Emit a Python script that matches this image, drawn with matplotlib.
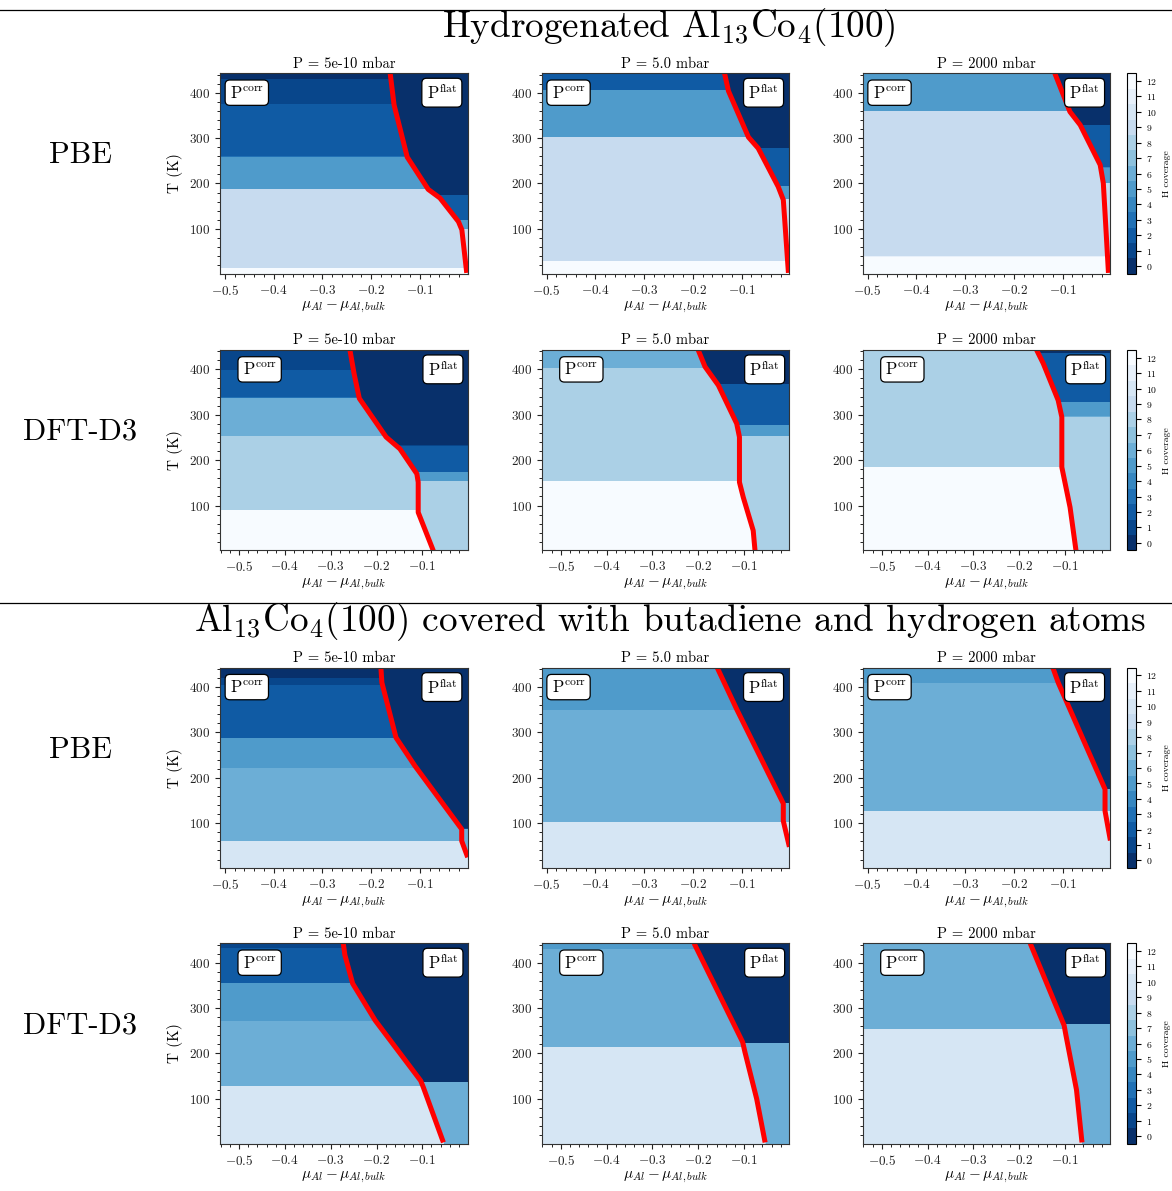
import numpy as np
import matplotlib
matplotlib.use('Agg')
import matplotlib.pyplot as plt
from matplotlib.lines import Line2D
from matplotlib.ticker import AutoMinorLocator, MultipleLocator

plt.rcParams['font.family'] = 'cmr10'
plt.rcParams['mathtext.fontset'] = 'cm'
plt.rcParams['axes.formatter.use_mathtext'] = True

# ---- labels ----
pressures = ['5e-10', '5.0', '2000']
row_methods = ['PBE', 'DFT-D3', 'PBE', 'DFT-D3']
section_titles = [r'Hydrogenated Al$_{13}$Co$_4$(100)',
                  r'Al$_{13}$Co$_4$(100) covered with butadiene and hydrogen atoms']
mu_range_pbe = [-0.51, -0.002]
mu_range_d3 = [-0.5415, -0.001]
T_range = [1, 442.7]
cov_ticks = list(range(13))

# ---- hydrogenated, PBE ----
h_pbe_lo_line_T = [442.7, 373, 258, 187, 168, 116, 98, 3]
h_pbe_lo_line_mu = [-0.161, -0.153, -0.126, -0.083, -0.059, -0.021, -0.014, -0.004]
h_pbe_lo_corr_T = [13.5, 187, 258, 373, 428]
h_pbe_lo_corr_cov = [12, 9, 5, 2, 1, 0]
h_pbe_lo_flat_T = [98, 118, 173]
h_pbe_lo_flat_cov = [9, 5, 2, 0]

h_pbe_mid_line_T = [442.7, 403.7, 302, 277.6, 193, 164, 3]
h_pbe_mid_line_mu = [-0.135, -0.127, -0.086, -0.066, -0.025, -0.0145, -0.004]
h_pbe_mid_corr_T = [28, 302, 404]
h_pbe_mid_corr_cov = [12, 9, 5, 2]
h_pbe_mid_flat_T = [164, 193, 277.6]
h_pbe_mid_flat_cov = [9, 5, 2, 0]

h_pbe_hi_line_T = [442.7, 358, 329, 241, 200.5, 3]
h_pbe_hi_line_mu = [-0.116, -0.085, -0.064, -0.023, -0.0165, -0.006]
h_pbe_hi_corr_T = [38, 358]
h_pbe_hi_corr_cov = [12, 9, 5]
h_pbe_hi_flat_T = [200, 234, 327]
h_pbe_hi_flat_cov = [9, 5, 2, 0]

# ---- hydrogenated, DFT-D3 ----
h_d3_lo_line_T = [442.7, 391, 336, 251, 225, 170, 151.5, 85, 0.4]
h_d3_lo_line_mu = [-0.258, -0.249, -0.2375, -0.179, -0.149, -0.112, -0.109, -0.109, -0.076]
h_d3_lo_corr_T = [89, 252.5, 337, 397]
h_d3_lo_corr_cov = [12, 8, 6, 2, 1]
h_d3_lo_flat_T = [153, 172, 231]
h_d3_lo_flat_cov = [8, 5, 2, 0]

h_d3_mid_line_T = [442.7, 405.7, 365, 280.6, 251, 151.5, 118, 45, 0.4]
h_d3_mid_line_mu = [-0.200, -0.185, -0.156, -0.116, -0.110, -0.110, -0.1016, -0.080, -0.076]
h_d3_mid_corr_T = [153, 402]
h_d3_mid_corr_cov = [12, 8, 6]
h_d3_mid_flat_T = [252.5, 277, 367.5]
h_d3_mid_flat_cov = [8, 5, 2, 0]

h_d3_hi_line_T = [442.7, 413, 332, 295, 184.6, 96, 0.4]
h_d3_hi_line_mu = [-0.162, -0.1475, -0.115, -0.107, -0.107, -0.089, -0.076]
h_d3_hi_corr_T = [183]
h_d3_hi_corr_cov = [12, 8]
h_d3_hi_flat_T = [295, 327, 434]
h_d3_hi_flat_cov = [8, 5, 2, 0]

# ---- butadiene + H, PBE ----
b_pbe_lo_line_T = [442.7, 409.7, 288.6, 226, 87, 61, 25]
b_pbe_lo_line_mu = [-0.180, -0.178, -0.149, -0.110, -0.0143, -0.0143, -0.002]
b_pbe_lo_corr_T = [60, 220, 286, 404, 419]
b_pbe_lo_corr_cov = [10, 6, 5, 2, 1, 0]
b_pbe_lo_flat_T = [87]
b_pbe_lo_flat_cov = [6, 0]

b_pbe_mid_line_T = [442.7, 351, 143.4, 105, 48]
b_pbe_mid_line_mu = [-0.150, -0.110, -0.0145, -0.0145, -0.002]
b_pbe_mid_corr_T = [101.6, 349]
b_pbe_mid_corr_cov = [10, 6, 5]
b_pbe_mid_flat_T = [101.6, 143.4]
b_pbe_mid_flat_cov = [10, 6, 0]

b_pbe_hi_line_T = [442.7, 409.7, 175, 127, 62]
b_pbe_hi_line_mu = [-0.120, -0.109, -0.013, -0.013, -0.002]
b_pbe_hi_corr_T = [125, 408]
b_pbe_hi_corr_cov = [10, 6, 5]
b_pbe_hi_flat_T = [125, 175]
b_pbe_hi_flat_cov = [10, 6, 0]

# ---- butadiene + H, DFT-D3 ----
b_d3_lo_line_T = [442.7, 416.8, 354, 273, 140, 126, 4]
b_d3_lo_line_mu = [-0.2725, -0.269, -0.252, -0.203, -0.1036, -0.098, -0.054]
b_d3_lo_corr_T = [128, 271.7, 354, 430, 439]
b_d3_lo_corr_cov = [10, 6, 5, 2, 1, 0]
b_d3_lo_flat_T = [137]
b_d3_lo_flat_cov = [6, 0]

b_d3_mid_line_T = [442.7, 225, 203, 100, 4]
b_d3_mid_line_mu = [-0.209, -0.103, -0.098, -0.0724, -0.054]
b_d3_mid_corr_T = [212.7, 428]
b_d3_mid_corr_cov = [10, 6, 5]
b_d3_mid_flat_T = [223]
b_d3_mid_flat_cov = [6, 0]

b_d3_hi_line_T = [442.7, 262, 240, 120, 4]
b_d3_hi_line_mu = [-0.176, -0.102, -0.098, -0.075, -0.063]
b_d3_hi_corr_T = [252.5]
b_d3_hi_corr_cov = [10, 6]
b_d3_hi_flat_T = [263]
b_d3_hi_flat_cov = [6, 0]

rows = [
    [(h_pbe_lo_line_T, h_pbe_lo_line_mu, h_pbe_lo_corr_T, h_pbe_lo_corr_cov, h_pbe_lo_flat_T, h_pbe_lo_flat_cov),
     (h_pbe_mid_line_T, h_pbe_mid_line_mu, h_pbe_mid_corr_T, h_pbe_mid_corr_cov, h_pbe_mid_flat_T, h_pbe_mid_flat_cov),
     (h_pbe_hi_line_T, h_pbe_hi_line_mu, h_pbe_hi_corr_T, h_pbe_hi_corr_cov, h_pbe_hi_flat_T, h_pbe_hi_flat_cov)],
    [(h_d3_lo_line_T, h_d3_lo_line_mu, h_d3_lo_corr_T, h_d3_lo_corr_cov, h_d3_lo_flat_T, h_d3_lo_flat_cov),
     (h_d3_mid_line_T, h_d3_mid_line_mu, h_d3_mid_corr_T, h_d3_mid_corr_cov, h_d3_mid_flat_T, h_d3_mid_flat_cov),
     (h_d3_hi_line_T, h_d3_hi_line_mu, h_d3_hi_corr_T, h_d3_hi_corr_cov, h_d3_hi_flat_T, h_d3_hi_flat_cov)],
    [(b_pbe_lo_line_T, b_pbe_lo_line_mu, b_pbe_lo_corr_T, b_pbe_lo_corr_cov, b_pbe_lo_flat_T, b_pbe_lo_flat_cov),
     (b_pbe_mid_line_T, b_pbe_mid_line_mu, b_pbe_mid_corr_T, b_pbe_mid_corr_cov, b_pbe_mid_flat_T, b_pbe_mid_flat_cov),
     (b_pbe_hi_line_T, b_pbe_hi_line_mu, b_pbe_hi_corr_T, b_pbe_hi_corr_cov, b_pbe_hi_flat_T, b_pbe_hi_flat_cov)],
    [(b_d3_lo_line_T, b_d3_lo_line_mu, b_d3_lo_corr_T, b_d3_lo_corr_cov, b_d3_lo_flat_T, b_d3_lo_flat_cov),
     (b_d3_mid_line_T, b_d3_mid_line_mu, b_d3_mid_corr_T, b_d3_mid_corr_cov, b_d3_mid_flat_T, b_d3_mid_flat_cov),
     (b_d3_hi_line_T, b_d3_hi_line_mu, b_d3_hi_corr_T, b_d3_hi_corr_cov, b_d3_hi_flat_T, b_d3_hi_flat_cov)],
]

W, H = 1172, 1191
fig = plt.figure(figsize=(W / 100, H / 100), dpi=100)

row_tops = [73.3, 350, 667.7, 943.3]
col_lefts = [220, 541.7, 862.7]
ax_w, ax_h = 247.7, 200.5
levels = np.arange(-0.5, 13.0, 1.0)


def rect(x, y, w, h):
    return [x / W, 1 - (y + h) / H, w / W, h / H]


def coverage_grid(mu, T, line_T, line_mu, corr_T, corr_cov, flat_T, flat_cov):
    order = np.argsort(line_T)
    border = np.interp(T, np.array(line_T)[order], np.array(line_mu)[order])
    corr = np.array(corr_cov)[np.searchsorted(corr_T, T)]
    flat = np.array(flat_cov)[np.searchsorted(flat_T, T)]
    MU = mu[None, :]
    return np.where(MU < border[:, None], corr[:, None], flat[:, None])


for r, panels in enumerate(rows):
    xr = mu_range_pbe if row_methods[r] == 'PBE' else mu_range_d3
    mu = np.linspace(xr[0], xr[1], 900)
    T = np.linspace(T_range[0], T_range[1], 900)
    for c, (lT, lmu, cT, ccov, fT, fcov) in enumerate(panels):
        ax = fig.add_axes(rect(col_lefts[c], row_tops[r], ax_w, ax_h))
        Z = coverage_grid(mu, T, lT, lmu, cT, ccov, fT, fcov)
        cs = ax.contourf(mu, T, Z, levels=levels, cmap='Blues_r', vmin=0, vmax=12)
        ax.plot(lmu, lT, color='red', lw=3.6, solid_capstyle='butt')
        ax.set_xlim(xr)
        ax.set_ylim(T_range)
        ax.xaxis.set_major_locator(MultipleLocator(0.1))
        ax.yaxis.set_major_locator(MultipleLocator(100))
        ax.xaxis.set_minor_locator(AutoMinorLocator())
        ax.yaxis.set_minor_locator(AutoMinorLocator())
        ax.tick_params(labelsize=9.5, colors='#222222')
        ax.set_title('P = %s mbar' % pressures[c], fontsize=10.5, pad=4)
        ax.set_xlabel(r'$\mu_{Al} - \mu_{Al,bulk}$', fontsize=11, labelpad=2)
        if c == 0:
            ax.set_ylabel('T (K)', fontsize=11)
        box = dict(boxstyle='round,pad=0.28', fc='white', ec='black', lw=0.9)
        ax.text(-0.455, 400, r'P$^{\rm corr}$', fontsize=12, ha='center', va='center', bbox=box)
        ax.text(-0.055, 400, r'P$^{\rm flat}$', fontsize=12, ha='center', va='center', bbox=box)
        for s in ax.spines.values():
            s.set_color('#333333')
    cax = fig.add_axes(rect(1126.7, row_tops[r], 9.3, ax_h))
    cb = fig.colorbar(cs, cax=cax, ticks=cov_ticks)
    cb.ax.tick_params(labelsize=7)
    cb.set_label('H coverage', fontsize=7)
    fig.text(80 / W, 1 - (row_tops[r] + ax_h / 2 - 18) / H, row_methods[r],
             fontsize=22, ha='center', va='center')

fig.text(669 / W, 1 - 28 / H, section_titles[0], fontsize=26.8, ha='center', va='center')
fig.text(670 / W, 1 - 622 / H, section_titles[1], fontsize=26.8, ha='center', va='center')
for y in [10, 603]:
    fig.add_artist(Line2D([0, 1], [1 - y / H, 1 - y / H], transform=fig.transFigure,
                          color='black', lw=0.9))

fig.savefig('out.png', dpi=100)
